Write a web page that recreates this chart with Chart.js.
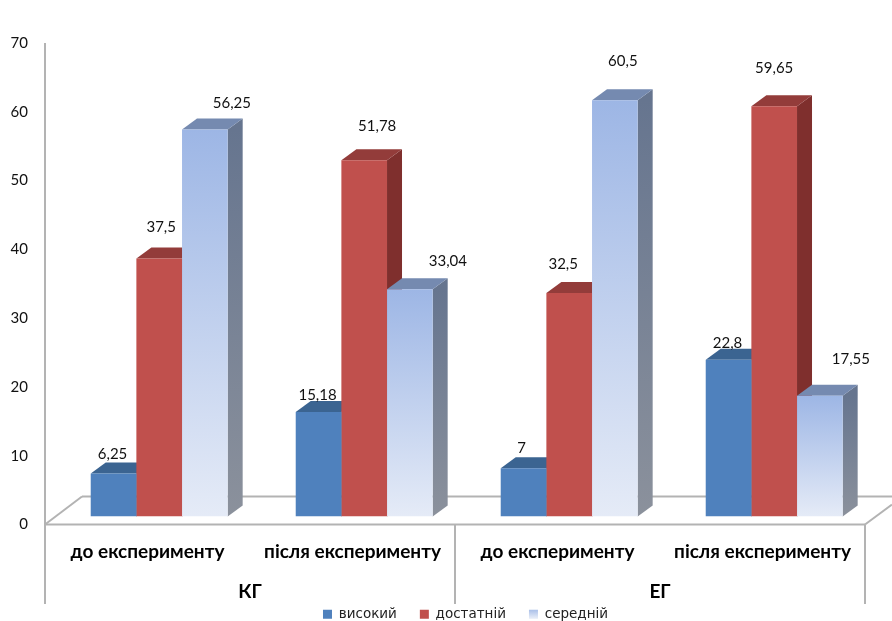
<!DOCTYPE html>
<html>
<head>
<meta charset="utf-8">
<title>Рівні за групами</title>
<style>
html, body { margin: 0; padding: 0; background: #fff; }
canvas { display: block; }
</style>
<script src="https://cdn.jsdelivr.net/npm/chart.js@4/dist/chart.umd.min.js"></script>
</head>
<body>
<canvas id="levelChart" width="892" height="621"></canvas>
<script>
// --- Data ---
const stages = ['до експерименту', 'після експерименту', 'до експерименту', 'після експерименту'];
const groups = ['КГ', 'ЕГ'];
const visokyi = [6.25, 15.18, 7, 22.8];
const dostatnii = [37.5, 51.78, 32.5, 59.65];
const serednii = [56.25, 33.04, 60.5, 17.55];

// --- Look of the fake 3D ---
const FONT = 'Lato, "Open Sans", sans-serif';
const LINE = '#b3b3b3';
const SHIFT_X = 11.7, SHIFT_Y = -8;     // bars stand further back than the axis plane
const DEPTH_X = 15, DEPTH_Y = -11;

const faces = [
    { front: '#4f81bd', top: '#3b6491', side: '#34587f' },
    { front: '#c0504d', top: '#933c3a', side: '#7f2f2d' },
    { top: '#758ab0', sideTop: '#66758f', sideBottom: '#8b919c' }
];

// label nudges from bar centre / bar top, one row per series
const labelNudge = [
    [[-1, -19], [-1, -17], [-2, -20], [-1, -17]],
    [[2, -31], [13, -34], [-6, -29], [0, -38]],
    [[27, -26], [38, -28], [8, -39], [31, -37]]
];

function paleFill(context) {
    const y = context.chart.scales.y;
    const top = y ? y.getPixelForValue(context.raw) : NaN;
    const bottom = y ? y.getPixelForValue(0) : NaN;
    if (!isFinite(top) || !isFinite(bottom)) return '#9db6e5';   // first pass, before layout
    const g = context.chart.ctx.createLinearGradient(0, top, 0, bottom);
    g.addColorStop(0, '#9db6e5');
    g.addColorStop(1, '#e5ebf7');
    return g;
}

function poly(ctx, pts, fill) {
    ctx.beginPath();
    pts.forEach((p, i) => i ? ctx.lineTo(p[0], p[1]) : ctx.moveTo(p[0], p[1]));
    ctx.closePath();
    ctx.fillStyle = fill;
    ctx.fill();
}

function segment(ctx, x1, y1, x2, y2) {
    ctx.beginPath();
    ctx.moveTo(x1, y1);
    ctx.lineTo(x2, y2);
    ctx.stroke();
}

// --- Floor, frame and bar depth faces, drawn behind the fronts ---
const depthPlugin = {
    id: 'depth',
    afterLayout(chart) {
        // legend sits right of the centre and overlaps the axis box in the original
        chart.legend.left += 33;
        chart.legend.right += 33;
        chart.legend.top -= 21;
        chart.legend.bottom -= 21;
    },
    beforeDatasetsDraw(chart) {
        const ctx = chart.ctx;
        const x = chart.scales.x, y = chart.scales.y;
        const y0 = y.getPixelForValue(0);
        const yTop = y.getPixelForValue(70);
        const mid = (x.left + x.right) / 2;
        const yEnd = 604;

        ctx.save();
        ctx.strokeStyle = LINE;
        ctx.lineWidth = 2;
        segment(ctx, x.left, yTop, x.left, yEnd);
        segment(ctx, x.left, y0, x.right, y0);
        segment(ctx, mid, y0, mid, yEnd);
        segment(ctx, x.right, y0, x.right, yEnd);
        segment(ctx, x.left, y0, x.left + 37, y0 - 28);
        segment(ctx, x.left + 37, y0 - 28, 892, y0 - 28);
        segment(ctx, x.right, y0, 892, y0 - 20);

        ctx.translate(SHIFT_X, SHIFT_Y);
        for (let i = 0; i < stages.length; i++) {
            chart.data.datasets.forEach((ds, d) => {
                const bar = chart.getDatasetMeta(d).data[i];
                const l = bar.x - bar.width / 2, r = bar.x + bar.width / 2;
                const f = faces[d];
                let side = f.side;
                if (!side) {
                    side = ctx.createLinearGradient(0, bar.y, 0, bar.base);
                    side.addColorStop(0, f.sideTop);
                    side.addColorStop(1, f.sideBottom);
                }
                poly(ctx, [[r, bar.y], [r + DEPTH_X, bar.y + DEPTH_Y], [r + DEPTH_X, bar.base + DEPTH_Y], [r, bar.base]], side);
                poly(ctx, [[l, bar.y], [l + DEPTH_X, bar.y + DEPTH_Y], [r + DEPTH_X, bar.y + DEPTH_Y], [r, bar.y]], f.top);
            });
        }
        ctx.restore();
    },
    beforeDatasetDraw(chart) {
        chart.ctx.save();
        chart.ctx.translate(SHIFT_X, SHIFT_Y);
    },
    afterDatasetDraw(chart) {
        chart.ctx.restore();
    },
    afterDatasetsDraw(chart) {
        const ctx = chart.ctx;
        ctx.save();
        ctx.font = '15px ' + FONT;
        ctx.fillStyle = '#111';
        ctx.textAlign = 'center';
        ctx.textBaseline = 'middle';
        chart.data.datasets.forEach((ds, d) => {
            chart.getDatasetMeta(d).data.forEach((bar, i) => {
                const n = labelNudge[d][i];
                const text = String(ds.data[i]).replace('.', ',');
                ctx.fillText(text, bar.x + SHIFT_X + n[0], bar.y + SHIFT_Y + n[1]);
            });
        });
        ctx.restore();
    }
};

new Chart(document.getElementById('levelChart'), {
    type: 'bar',
    data: {
        labels: stages,
        datasets: [
            { label: 'високий', data: visokyi, backgroundColor: faces[0].front },
            { label: 'достатній', data: dostatnii, backgroundColor: faces[1].front },
            { label: 'середній', data: serednii, backgroundColor: paleFill }
        ]
    },
    plugins: [depthPlugin],
    options: {
        responsive: false,
        animation: false,
        categoryPercentage: 0.668,
        barPercentage: 1,
        layout: { padding: { top: 43, right: 27, bottom: -31, left: 0 } },
        scales: {
            x: {
                weight: 0,
                grid: { display: false, drawTicks: false },
                border: { display: false },
                afterFit: (s) => { s.height = 44; },
                ticks: {
                    maxRotation: 0,
                    autoSkip: false,
                    padding: 16,
                    color: '#000',
                    font: { family: FONT, size: 19, weight: 'bold' }
                }
            },
            x2: {
                type: 'category',
                position: 'bottom',
                labels: groups,
                offset: true,
                weight: 1,
                grid: { display: false, drawTicks: false },
                border: { display: false },
                afterFit: (s) => { s.height = 37; },
                ticks: {
                    padding: 12,
                    color: '#000',
                    font: { family: FONT, size: 19, weight: 'bold' }
                }
            },
            y: {
                min: 0,
                max: 70,
                grid: { display: false, drawTicks: false },
                border: { display: false },
                afterFit: (s) => { s.width = 45; },
                ticks: {
                    stepSize: 10,
                    padding: 17,
                    color: '#111',
                    font: { family: FONT, size: 15 }
                }
            }
        },
        plugins: {
            tooltip: { enabled: false },
            legend: {
                position: 'bottom',
                labels: {
                    boxWidth: 9,
                    boxHeight: 9,
                    padding: 23,
                    color: '#222',
                    font: { family: '"DejaVu Sans", sans-serif', size: 13.5 },
                    generateLabels(chart) {
                        const items = Chart.defaults.plugins.legend.labels.generateLabels(chart);
                        const g = chart.ctx.createLinearGradient(0, 608, 0, 618);
                        g.addColorStop(0, '#9db6e5');
                        g.addColorStop(1, '#e5ebf7');
                        items.forEach((it, i) => {
                            it.fillStyle = i === 2 ? g : faces[i].front;
                            it.strokeStyle = 'transparent';
                            it.lineWidth = 0;
                        });
                        return items;
                    }
                }
            }
        }
    }
});
</script>
</body>
</html>
